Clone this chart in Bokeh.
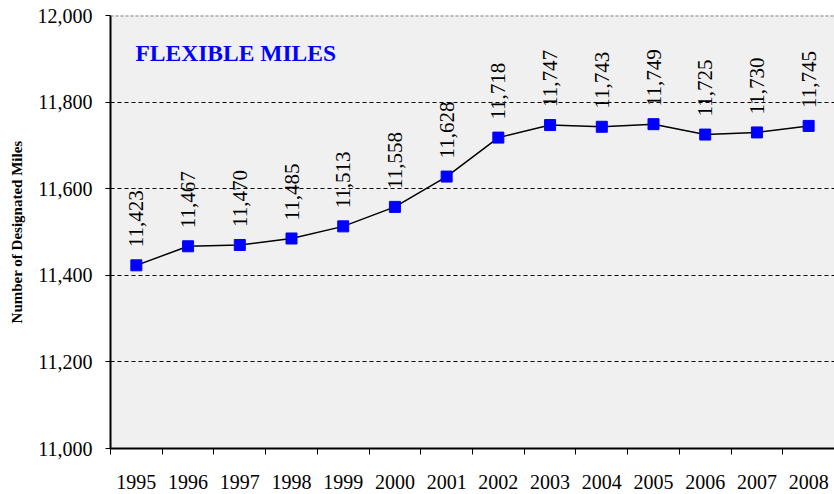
import numpy as np
from bokeh.plotting import figure
from bokeh.models import FixedTicker, NumeralTickFormatter, Span, Range1d, ColumnDataSource, Label
from bokeh.core.properties import value
from bokeh.embed import file_html
from bokeh.resources import INLINE

years = ["1995", "1996", "1997", "1998", "1999", "2000", "2001",
         "2002", "2003", "2004", "2005", "2006", "2007", "2008"]
miles = [11423, 11467, 11470, 11485, 11513, 11558, 11628,
         11718, 11747, 11743, 11749, 11725, 11730, 11745]
y_ticks = [11000, 11200, 11400, 11600, 11800, 12000]
title_text = "FLEXIBLE MILES"
y_label = "Number of Designated Miles"

FONT = "Liberation Serif"
xs = list(range(len(years)))
src = ColumnDataSource(dict(x=xs, y=miles,
                            lbl=["{:,}".format(v) for v in miles]))

p = figure(width=834, height=494, output_backend="svg", toolbar_location=None,
           x_range=Range1d(-0.5, len(years) - 0.5), y_range=Range1d(11000, 12000),
           min_border_left=110, min_border_right=0, min_border_top=15, min_border_bottom=46)
p.background_fill_color = "#F0F0F0"
p.border_fill_color = "white"
p.outline_line_color = None

# x axis
p.xaxis.ticker = FixedTicker(ticks=xs, minor_ticks=[i - 0.5 for i in range(len(years) + 1)])
p.xaxis.major_label_overrides = {i: y for i, y in enumerate(years)}
p.xaxis.major_tick_line_color = None
p.xaxis.minor_tick_line_color = "black"
p.xaxis.minor_tick_out = 6
p.xaxis.minor_tick_in = 0
p.xaxis.axis_line_color = "black"
p.xaxis.axis_line_width = 2
p.xaxis.major_label_text_font = FONT
p.xaxis.major_label_text_font_size = "20px"
p.xaxis.major_label_text_color = "black"
p.xaxis.major_label_standoff = 20

# y axis
p.yaxis.ticker = FixedTicker(ticks=y_ticks)
p.yaxis.formatter = NumeralTickFormatter(format="0,0")
p.yaxis.minor_tick_line_color = None
p.yaxis.major_tick_line_color = "black"
p.yaxis.major_tick_out = 5
p.yaxis.major_tick_in = 0
p.yaxis.axis_line_color = "black"
p.yaxis.axis_line_width = 2
p.yaxis.major_label_text_font = FONT
p.yaxis.major_label_text_font_size = "20px"
p.yaxis.major_label_text_color = "black"
p.yaxis.major_label_standoff = 13
p.yaxis.axis_label = y_label
p.yaxis.axis_label_text_font = FONT
p.yaxis.axis_label_text_font_style = "bold"
p.yaxis.axis_label_text_font_size = "15px"
p.yaxis.axis_label_text_color = "black"
p.yaxis.axis_label_standoff = 10

p.xgrid.grid_line_color = None
p.ygrid.ticker = FixedTicker(ticks=[t for t in y_ticks if 11000 < t < 12000])
p.ygrid.grid_line_color = "black"
p.ygrid.grid_line_dash = "4 3"
p.ygrid.grid_line_width = 1

p.add_layout(Span(location=12000, dimension="width", line_color="#808080",
                  line_dash="3 2", line_width=2))

p.line("x", "y", source=src, line_color="black", line_width=1.5)
p.scatter("x", "y", source=src, marker="square", size=11,
          fill_color="blue", line_color="blue")
p.text("x", "y", text="lbl", source=src, angle=np.pi / 2,
       text_align="left", text_baseline="middle", y_offset=-18,
       text_font=value(FONT), text_font_size="21px", text_color="black")

p.add_layout(Label(x=-0.5, y=12000, x_offset=25, y_offset=-37,
                   text=title_text, text_font=FONT, text_font_style="bold",
                   text_font_size="23.5px", text_color="blue",
                   text_baseline="middle"))

open("out.html", "w").write(file_html(p, INLINE))
